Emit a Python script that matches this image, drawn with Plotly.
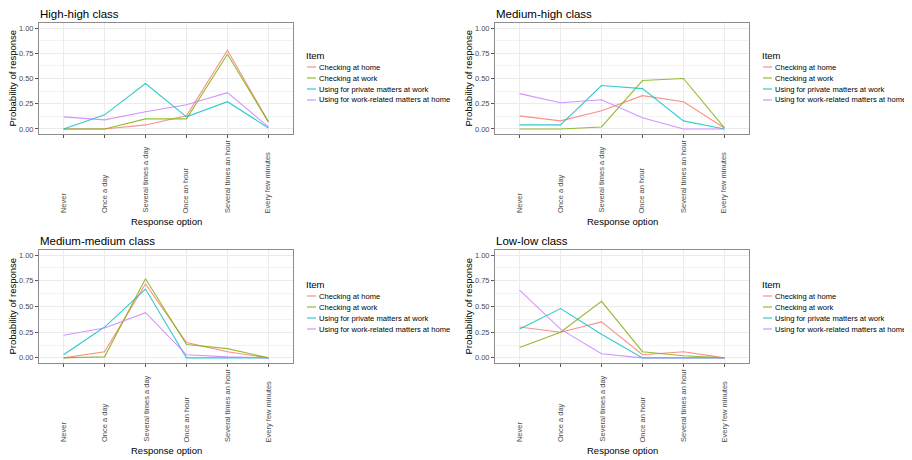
import plotly.graph_objects as go

# ---------------- data ----------------
categories = ["Never", "Once a day", "Several times a day", "Once an hour",
              "Several times an hour", "Every few minutes"]
items = ["Checking at home", "Checking at work",
         "Using for private matters at work", "Using for work-related matters at home"]
panel_titles = ["High-high class", "Medium-high class", "Medium-medium class", "Low-low class"]
y_tick_values = [0.0, 0.25, 0.5, 0.75, 1.0]
y_tick_labels = ["0.00", "0.25", "0.50", "0.75", "1.00"]

# High-high class
hh_home = [0.00, 0.00, 0.04, 0.13, 0.78, 0.07]
hh_work = [0.00, 0.00, 0.10, 0.10, 0.74, 0.07]
hh_private = [0.00, 0.14, 0.45, 0.12, 0.27, 0.01]
hh_workrel = [0.12, 0.09, 0.17, 0.24, 0.36, 0.02]
# Medium-high class
mh_home = [0.13, 0.08, 0.18, 0.33, 0.27, 0.01]
mh_work = [0.00, 0.00, 0.02, 0.48, 0.50, 0.01]
mh_private = [0.04, 0.04, 0.43, 0.40, 0.08, 0.00]
mh_workrel = [0.35, 0.26, 0.29, 0.11, 0.00, 0.00]
# Medium-medium class
mm_home = [0.00, 0.06, 0.72, 0.15, 0.06, 0.00]
mm_work = [0.00, 0.01, 0.77, 0.13, 0.09, 0.00]
mm_private = [0.03, 0.30, 0.67, 0.00, 0.00, 0.00]
mm_workrel = [0.22, 0.29, 0.44, 0.03, 0.01, 0.00]
# Low-low class
ll_home = [0.30, 0.25, 0.35, 0.03, 0.06, 0.00]
ll_work = [0.10, 0.25, 0.55, 0.06, 0.02, 0.00]
ll_private = [0.28, 0.48, 0.23, 0.00, 0.00, 0.00]
ll_workrel = [0.66, 0.28, 0.04, 0.00, 0.00, 0.00]

panel_series = [
    [hh_home, hh_work, hh_private, hh_workrel],
    [mh_home, mh_work, mh_private, mh_workrel],
    [mm_home, mm_work, mm_private, mm_workrel],
    [ll_home, ll_work, ll_private, ll_workrel],
]

colors = ["#F8766D", "#7CAE00", "#00BFC4", "#C77CFF"]

# ---------------- layout helpers ----------------
OFF = 8                      # page body margin of the browser
W, H = 912 - OFF, 460 - OFF  # figure size that fits the window
FONT = "Liberation Sans, Arial, sans-serif"


def px(x):
    return (x - OFF) / W


def py(y):
    return 1 - (y - OFF) / H


# panel boxes in window pixels: (left, right, top, bottom)
boxes = [(39, 293, 23, 134), (495, 749, 23, 134),
         (39, 293, 250, 363), (495, 749, 250, 363)]
title_y = [14, 14, 241, 241]
legend_x = [305, 761, 305, 761]
legend_top = [55, 55, 284, 284]

fig = go.Figure()
annotations = []
shapes = []

for p in range(4):
    ax = "" if p == 0 else str(p + 1)
    xref = "x" + ax
    yref = "y" + ax
    for s in range(4):
        fig.add_trace(go.Scatter(
            x=list(range(len(categories))), y=panel_series[p][s], mode="lines",
            name=items[s], line=dict(color=colors[s], width=1.1), opacity=0.8,
            showlegend=False, xaxis=xref, yaxis=yref, hoverinfo="x+y+name"))

    l, r, t, b = boxes[p]
    axis_common = dict(showline=True, mirror=True, linecolor="#8c8c8c", linewidth=1,
                       ticks="outside", ticklen=3, tickcolor="#555555", tickwidth=1,
                       zeroline=False, gridcolor="#EBEBEB", gridwidth=1)
    fig.layout["xaxis" + ax] = dict(
        axis_common, domain=[px(l), px(r)], anchor=yref, range=[-0.6, 5.6],
        tickvals=list(range(len(categories))), showticklabels=False, showgrid=True)
    fig.layout["yaxis" + ax] = dict(
        axis_common, domain=[py(b), py(t)], anchor=xref, range=[-0.05, 1.05],
        tickvals=y_tick_values, ticktext=y_tick_labels, showgrid=True,
        tickfont=dict(size=7.5, color="#4D4D4D", family=FONT),
        minor=dict(showgrid=True, dtick=0.125, tick0=0, gridcolor="#F3F3F3",
                   gridwidth=0.6, ticks=""))

    # panel title
    annotations.append(dict(text=panel_titles[p], x=px(l), y=py(title_y[p]), xref="paper",
                            yref="paper", xanchor="left", yanchor="middle", showarrow=False,
                            borderpad=0,
                            font=dict(size=11.5, color="#000000", family=FONT)))
    # x tick labels (rotated, bottom-aligned)
    for i, c in enumerate(categories):
        annotations.append(dict(text=c, x=i, xref=xref, y=py(b + 80), yref="paper",
                                xanchor="center", yanchor="bottom", textangle=-90,
                                showarrow=False, borderpad=0,
                                font=dict(size=7.5, color="#4D4D4D", family=FONT)))
    # x axis title
    annotations.append(dict(text="Response option", x=px((l + r) / 2), y=py(b + 87),
                            xref="paper", yref="paper", xanchor="center", yanchor="middle",
                            showarrow=False, font=dict(size=9.5, color="#000000", family=FONT)))
    # y axis title
    annotations.append(dict(text="Probability of response", x=px(l - 27), y=py((t + b) / 2),
                            xref="paper", yref="paper", xanchor="center", yanchor="middle",
                            textangle=-90, showarrow=False,
                            font=dict(size=9.5, color="#000000", family=FONT)))
    # legend
    lx, ly = legend_x[p], legend_top[p]
    annotations.append(dict(text="Item", x=px(lx - 1), y=py(ly), xref="paper", yref="paper",
                            xanchor="left", yanchor="middle", showarrow=False,
                            font=dict(size=9.5, color="#000000", family=FONT)))
    for s in range(4):
        yy = ly + 12 + 11 * s
        shapes.append(dict(type="line", xref="paper", yref="paper",
                           x0=px(lx + 2), x1=px(lx + 11), y0=py(yy), y1=py(yy),
                           line=dict(color=colors[s], width=1.3), opacity=0.75))
        annotations.append(dict(text=items[s], x=px(lx + 13), y=py(yy), xref="paper",
                                yref="paper", xanchor="left", yanchor="middle",
                                showarrow=False, borderpad=0,
                                font=dict(size=7.6, color="#000000", family=FONT)))

fig.update_layout(
    width=W, height=H, margin=dict(l=0, r=0, t=0, b=0),
    paper_bgcolor="white", plot_bgcolor="white",
    font=dict(family=FONT), showlegend=False,
    annotations=annotations, shapes=shapes,
)

fig.write_html("out.html")
